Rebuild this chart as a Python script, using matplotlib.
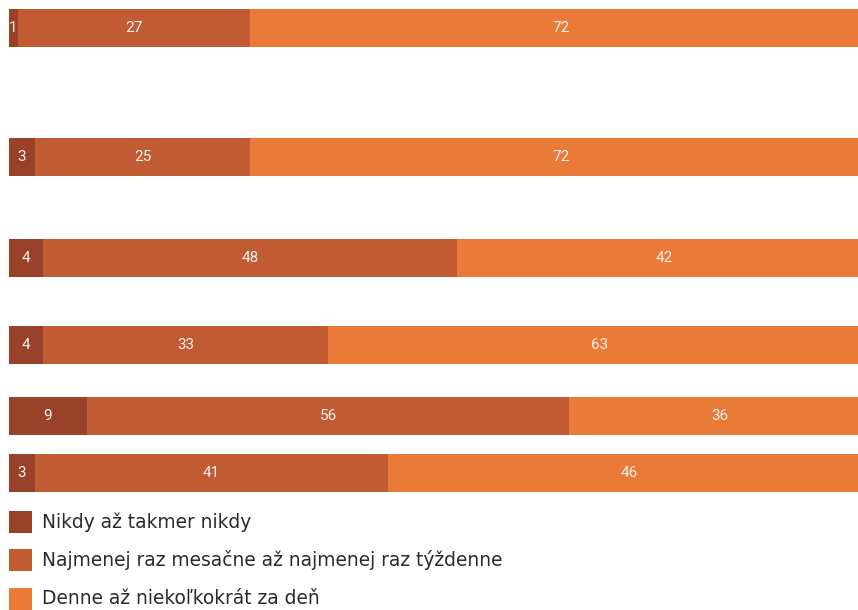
import matplotlib
matplotlib.use("Agg")
import matplotlib.pyplot as plt
from matplotlib.patches import Rectangle

# Data
series_names = ["Nikdy až takmer nikdy",
                "Najmenej raz mesačne až najmenej raz týždenne",
                "Denne až niekoľkokrát za deň"]
never = [1, 3, 4, 4, 9, 3]
monthly = [27, 25, 48, 33, 56, 41]
daily = [72, 72, 42, 63, 36, 46]

# Layout (pixel positions of bar centres, top-down)
W, H = 858, 610
bar_centres = [28, 157, 258, 345, 416, 473]
bar_h = 38
colors = ["#9A4229", "#C05B33", "#E97A38"]

fig = plt.figure(figsize=(W / 100, H / 100), dpi=100)
ax = fig.add_axes([9 / W, 0, (871 - 9) / W, 1])
ax.set_xlim(0, 100)
ax.set_ylim(H, 0)
ax.axis("off")

for i, yc in enumerate(bar_centres):
    a, b, c = never[i], monthly[i], daily[i]
    rest = 100 - a - b  # last segment fills the 100% bar
    segs = [(0, a, a), (a, b, b), (a + b, rest, c)]
    for k, (left, width, lab) in enumerate(segs):
        ax.barh(yc, width, left=left, height=bar_h, color=colors[k], linewidth=0)
        ax.text(left + width / 2, yc, str(lab), ha="center", va="center",
                color="#f7f2ee", fontsize=11, family="Roboto")

# Legend
leg_y = [522, 560, 599]
for k, name in enumerate(series_names):
    y = leg_y[k]
    fig.patches.append(Rectangle((9 / W, 1 - (y + 11) / H), 23 / W, 22 / H,
                                 transform=fig.transFigure, color=colors[k],
                                 linewidth=0))
    fig.text(42 / W, 1 - y / H, name, ha="left", va="center", fontsize=13.4,
             color="#2a2a2a", family="DejaVu Sans")

fig.savefig("out.png", dpi=100)
